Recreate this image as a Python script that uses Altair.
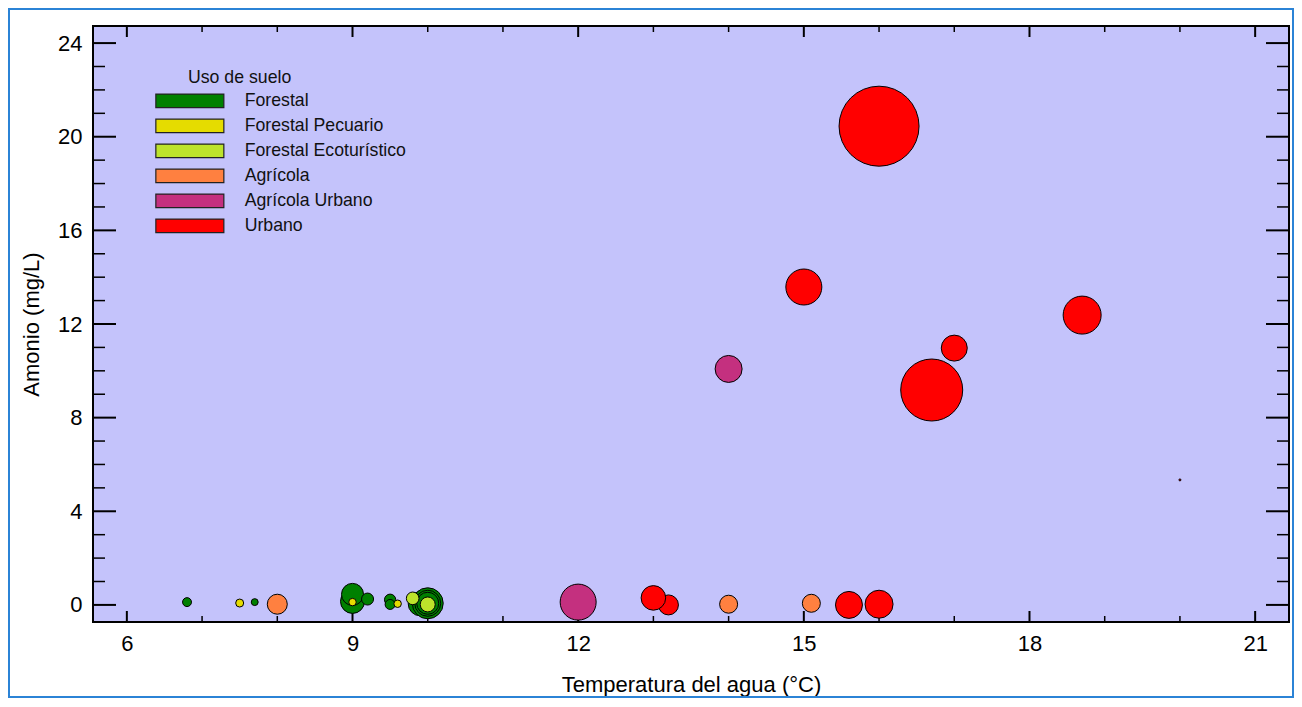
import altair as alt
import pandas as pd

# ---- data ----
temp = [6.8, 7.7, 9.0, 9.0, 9.2, 9.5, 9.5, 9.9, 10.0, 10.0, 10.0,
        9.8, 10.0,
        7.5, 9.0, 9.6,
        8.0, 14.0, 15.1,
        12.0, 14.0,
        13.2, 13.0, 15.6, 16.0, 16.0, 15.0, 18.7, 17.0, 16.7, 20.0]
amonio = [0.12, 0.12, 0.15, 0.45, 0.25, 0.22, 0.02, 0.05, 0.07, 0.07, 0.07,
          0.28, 0.02,
          0.08, 0.12, 0.05,
          0.03, 0.03, 0.07,
          0.12, 10.08,
          0.0, 0.3, 0.0, 0.03, 20.45, 13.58, 12.38, 10.97, 9.18, 5.34]
uso = ["Forestal"] * 11 + ["Forestal Ecoturístico"] * 2 + ["Forestal Pecuario"] * 3 + \
      ["Agrícola"] * 3 + ["Agrícola Urbano"] * 2 + ["Urbano"] * 10
tamano = [20, 12, 144, 121, 36, 32, 25, 144, 240, 169, 121,
          40, 56,
          16, 14, 14,
          100, 81, 81,
          324, 182,
          100, 151, 182, 196, 1600, 324, 361, 169, 961, 1]
orden = list(range(len(temp)))

categorias = ["Forestal", "Forestal Pecuario", "Forestal Ecoturístico",
              "Agrícola", "Agrícola Urbano", "Urbano"]
colores = ["#008000", "#e5dc00", "#bde32b", "#ff8040", "#c4307f", "#ff0000"]

x_major = [6, 9, 12, 15, 18, 21]
x_minor = [7, 8, 10, 11, 13, 14, 16, 17, 19, 20]
y_major = [0, 4, 8, 12, 16, 20, 24]
y_minor = [1, 2, 3, 5, 6, 7, 9, 10, 11, 13, 14, 15, 17, 18, 19, 21, 22, 23]

W, H = 1196, 596
FONT = "Liberation Sans, Arial, sans-serif"

df = pd.DataFrame({"temp": temp, "amonio": amonio, "uso": uso,
                   "tamano": tamano, "orden": orden})

xscale = alt.Scale(domain=[5.55, 21.45], nice=False, zero=False)
yscale = alt.Scale(domain=[-0.73, 24.73], nice=False, zero=False)

axis_x = alt.Axis(values=x_major, title="Temperatura del agua (°C)", grid=False,
                  domain=False, ticks=False, labelPadding=11, labelFontSize=22,
                  titleFontSize=22, titleFontWeight="normal", titleY=69,
                  titleBaseline="alphabetic", labelColor="black", titleColor="black",
                  labelFont=FONT, titleFont=FONT, labelFlush=False)
axis_y = alt.Axis(values=y_major, title="Amonio (mg/L)", grid=False,
                  domain=False, ticks=False, labelPadding=11, labelFontSize=22,
                  titleFontSize=22, titleFontWeight="normal", titleX=-55, titleY=298,
                  titleAngle=270, titleBaseline="alphabetic", labelColor="black",
                  titleColor="black", labelFont=FONT, titleFont=FONT, labelFlush=False)

X = alt.X("temp:Q", scale=xscale, axis=axis_x)
Y = alt.Y("amonio:Q", scale=yscale, axis=axis_y)

# legend swatch: wide rectangle, 68 x 13.6 px (path scaled by sqrt(size)/2 = 6.8)
SW_HALF = 6.8
SW_SIZE = (2 * SW_HALF) ** 2

points = alt.Chart(df).mark_circle(opacity=1, stroke="black", strokeWidth=1).encode(
    x=X, y=Y,
    size=alt.Size("tamano:Q", scale=alt.Scale(domain=[0, 1600], range=[0, 6400]),
                  legend=None),
    color=alt.Color("uso:N", scale=alt.Scale(domain=categorias, range=colores),
                    legend=alt.Legend(title=None, orient="none", legendX=88, legendY=66,
                                      symbolType="M-5,-1H5V1H-5Z",
                                      symbolSize=SW_SIZE, symbolStrokeColor="#222",
                                      symbolStrokeWidth=1.2, labelFontSize=17.7,
                                      labelFont=FONT, labelColor="#111",
                                      labelOffset=46, labelLimit=400, rowPadding=5,
                                      padding=0)),
    order=alt.Order("orden:Q"),
)

ymaj = pd.DataFrame({"amonio": y_major})
ymin = pd.DataFrame({"amonio": y_minor})
xmaj = pd.DataFrame({"temp": x_major})
xmin = pd.DataFrame({"temp": x_minor})

def yticks(d, length, sw):
    left = alt.Chart(d).mark_rule(color="black", strokeWidth=sw).encode(
        y=Y, x=alt.value(0), x2=alt.value(length))
    right = alt.Chart(d).mark_rule(color="black", strokeWidth=sw).encode(
        y=Y, x=alt.value(W), x2=alt.value(W - length))
    return [left, right]

def xticks(d, length, sw):
    bottom = alt.Chart(d).mark_rule(color="black", strokeWidth=sw).encode(
        x=X, y=alt.value(H), y2=alt.value(H - length))
    top = alt.Chart(d).mark_rule(color="black", strokeWidth=sw).encode(
        x=X, y=alt.value(0), y2=alt.value(length))
    return [bottom, top]

one = pd.DataFrame({"k": [0]})
legend_title = alt.Chart(one).mark_text(
    text="Uso de suelo", font=FONT, fontSize=17.7, color="#111",
    align="left", baseline="alphabetic").encode(x=alt.value(95), y=alt.value(57))

frame = alt.Chart(one).mark_rect(fill="transparent", stroke="#2b83d6",
                                 strokeWidth=2).encode(
    x=alt.value(-84), x2=alt.value(W + 4), y=alt.value(-17), y2=alt.value(H + 75))

layers = (yticks(ymaj, 23, 2) + yticks(ymin, 12, 1.5) +
          xticks(xmaj, 11, 2) + xticks(xmin, 6, 1.5) +
          [points, legend_title, frame])

chart = alt.layer(*layers).properties(
    width=W, height=H,
    autosize=alt.AutoSizeParams(type="none"),
    padding={"left": 85, "top": 18, "right": 5, "bottom": 76},
    background="white",
).configure_view(fill="#c4c3fb", stroke="black", strokeWidth=2)

chart.save("out.html", embed_options={"renderer": "svg", "actions": False})
